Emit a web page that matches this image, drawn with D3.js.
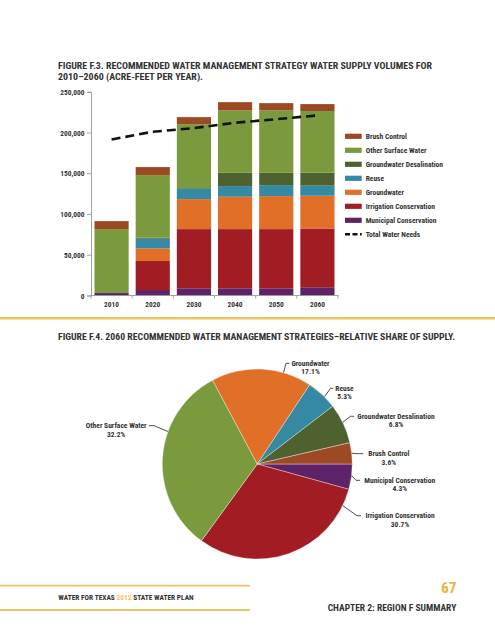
<!DOCTYPE html>
<html><head><meta charset="utf-8">
<script src="https://cdn.jsdelivr.net/npm/d3@7"></script>
<style>
html,body{margin:0;padding:0;background:#fff;}
svg{display:block;}
text{font-family:"Liberation Sans Narrow","Arial Narrow","Roboto Condensed",sans-serif;font-weight:bold;fill:#333;}
</style></head><body>
<svg id="c" width="495" height="640"></svg>
<script>
// ---------- DATA ----------
const years = ["2010","2020","2030","2040","2050","2060"];
const municipal    = [3000, 6700, 8800, 8800, 8800, 10100];
const irrigation   = [0, 35600, 72700, 72700, 72700, 72100];
const groundwater  = [0, 15500, 36800, 39700, 40500, 40200];
const reuse        = [0, 11900, 12700, 13100, 13500, 12400];
const desal        = [0, 1200, 800, 16300, 15100, 16000];
const otherSurface = [78500, 76900, 78500, 76500, 76500, 75600];
const brush        = [9800, 9800, 8600, 10200, 9000, 8500];
const totalNeeds   = [191500, 201000, 205400, 212000, 216400, 221000];
const yTicks = [0, 50000, 100000, 150000, 200000, 250000];
const stackKeys = ["Municipal Conservation","Irrigation Conservation","Groundwater","Reuse","Groundwater Desalination","Other Surface Water","Brush Control"];
const legendNames = ["Brush Control","Other Surface Water","Groundwater Desalination","Reuse","Groundwater","Irrigation Conservation","Municipal Conservation"];
const needsName = "Total Water Needs";
const pieNames  = ["Municipal Conservation","Irrigation Conservation","Other Surface Water","Groundwater","Reuse","Groundwater Desalination","Brush Control"];
const pieShares = [4.3, 30.7, 32.2, 17.1, 5.3, 6.8, 3.6];

// ---------- STYLE ----------
const colors = {
  "Brush Control":"#9c4a24",
  "Other Surface Water":"#7b9a3d",
  "Groundwater Desalination":"#4e6230",
  "Reuse":"#3689a3",
  "Groundwater":"#e26f27",
  "Irrigation Conservation":"#a11d23",
  "Municipal Conservation":"#5e2268"
};
const gold = "#eec462";
const svg = d3.select("#c");

// ---------- TITLES ----------
svg.append("text").attr("x",58).attr("y",68.6).attr("font-size",9.8)
  .attr("textLength",374).attr("lengthAdjust","spacingAndGlyphs")
  .text("FIGURE F.3. RECOMMENDED WATER MANAGEMENT STRATEGY WATER SUPPLY VOLUMES FOR");
svg.append("text").attr("x",58).attr("y",80.4).attr("font-size",9.8)
  .attr("textLength",145).attr("lengthAdjust","spacingAndGlyphs")
  .text("2010\u20132060 (ACRE-FEET PER YEAR).");

// ---------- BAR CHART ----------
const x = d3.scaleBand().domain(years).range([91,338]).paddingInner(0.17).paddingOuter(0.085);
const y = d3.scaleLinear().domain([0,250000]).range([295.5,91.8]);

const table = years.map((yr,i)=>({
  year: yr,
  "Municipal Conservation": municipal[i],
  "Irrigation Conservation": irrigation[i],
  "Groundwater": groundwater[i],
  "Reuse": reuse[i],
  "Groundwater Desalination": desal[i],
  "Other Surface Water": otherSurface[i],
  "Brush Control": brush[i]
}));
const stacked = d3.stack().keys(stackKeys)(table);

const g = svg.append("g");
g.selectAll("g.layer").data(stacked).join("g").attr("class","layer")
  .attr("fill",d=>colors[d.key])
  .selectAll("rect").data(d=>d).join("rect")
  .attr("x",d=>x(d.data.year))
  .attr("width",x.bandwidth())
  .attr("y",d=>y(d[1]))
  .attr("height",d=>Math.max(0,y(d[0])-y(d[1])));

// y axis
const yAxis = d3.axisLeft(y).tickValues(yTicks).tickSize(4).tickFormat(d3.format(","));
const ya = svg.append("g").attr("transform","translate(91,0)").call(yAxis);
ya.attr("font-family",null).attr("font-size",null);
ya.select(".domain").attr("stroke","#999").attr("stroke-width",0.9);
ya.selectAll(".tick line").attr("stroke","#999").attr("stroke-width",0.9);
ya.selectAll(".tick text").attr("font-size",7.4).attr("x",-6.5).attr("dy","0.34em");

// x axis
const xa = svg.append("g").attr("transform","translate(0,295.5)");
xa.append("line").attr("x1",91).attr("x2",338.5).attr("stroke","#999").attr("stroke-width",0.9);
const step = x.step();
const bounds = years.map(yr=>x(yr)-x.paddingInner()*step/2).concat([x(years[years.length-1])+x.bandwidth()+x.paddingInner()*step/2]);
xa.selectAll("line.t").data(bounds).join("line").attr("class","t")
  .attr("x1",d=>d).attr("x2",d=>d).attr("y1",0).attr("y2",3).attr("stroke","#999").attr("stroke-width",0.9);
xa.selectAll("text").data(years).join("text")
  .attr("x",d=>x(d)+x.bandwidth()/2).attr("y",11.3).attr("text-anchor","middle").attr("font-size",7.4)
  .text(d=>d);

// total needs line
const line = d3.line().x((d,i)=>x(years[i])+x.bandwidth()/2).y(d=>y(d));
svg.append("path").datum(totalNeeds).attr("d",line).attr("fill","none")
  .attr("stroke","#111").attr("stroke-width",2.6).attr("stroke-dasharray","9,5");

// legend
const lg = svg.append("g").attr("transform","translate(345,136.3)");
const rows = lg.selectAll("g").data(legendNames.concat([needsName])).join("g")
  .attr("transform",(d,i)=>`translate(0,${i*14})`);
rows.filter(d=>d!==needsName).append("rect").attr("x",0).attr("y",-2.6).attr("width",16.7).attr("height",5.2)
  .attr("fill",d=>colors[d]);
rows.filter(d=>d===needsName).append("line").attr("x1",0).attr("x2",16.7).attr("y1",0).attr("y2",0)
  .attr("stroke","#111").attr("stroke-width",2.4).attr("stroke-dasharray","5,2.5");
rows.append("text").attr("x",20.7).attr("y",2.7).attr("font-size",7.5).text(d=>d);

// separator
svg.append("line").attr("x1",0).attr("x2",495).attr("y1",318.3).attr("y2",318.3)
  .attr("stroke",gold).attr("stroke-width",2.4);

// ---------- PIE ----------
svg.append("text").attr("x",58).attr("y",339.6).attr("font-size",9.8)
  .attr("textLength",397).attr("lengthAdjust","spacingAndGlyphs")
  .text("FIGURE F.4. 2060 RECOMMENDED WATER MANAGEMENT STRATEGIES\u2013RELATIVE SHARE OF SUPPLY.");

const cx = 257.3, cy = 464, R = 95;
const pieData = pieNames.map((n,i)=>({name:n, share:pieShares[i]}));
const pie = d3.pie().sort(null).value(d=>d.share).startAngle(Math.PI/2).endAngle(Math.PI/2+2*Math.PI);
const arc = d3.arc().innerRadius(0).outerRadius(R);
const pg = svg.append("g").attr("transform",`translate(${cx},${cy})`);
pg.selectAll("path").data(pie(pieData)).join("path")
  .attr("d",arc).attr("fill",d=>colors[d.data.name]).attr("stroke","#fff").attr("stroke-width",0.5).attr("stroke-opacity",0.7);

// label layout (positions only)
const labelLayout = {
  "Groundwater":              {tx:310.5, ty:363.3, start:[289.5,363.3], elbow:[286,363.3],   ang:16},
  "Reuse":                    {tx:344.5, ty:388.3, start:[333.3,388.3], elbow:[330.5,388.3], ang:45},
  "Groundwater Desalination": {tx:396,   ty:416.3, start:[354,416.3],   elbow:[350.5,416.3], ang:64},
  "Brush Control":            {tx:388.8, ty:453.7, start:[363.3,453.7], elbow:[357,453.7],   ang:83.5},
  "Municipal Conservation":   {tx:399.7, ty:480.3, start:[360,480.3],   elbow:[356,480.3],   ang:97},
  "Irrigation Conservation":  {tx:400,   ty:515.7, start:[361,515.7],   elbow:[357,515.7],   ang:116},
  "Other Surface Water":      {tx:116.2, ty:425.7, start:[149,425.7],   elbow:[154,425.7],   ang:290}
};
const lab = svg.append("g");
pieData.forEach(d=>{
  const L = labelLayout[d.name];
  const a = L.ang*Math.PI/180;
  const ex = cx + R*Math.sin(a), ey = cy - R*Math.cos(a);
  lab.append("polyline").attr("points",`${L.start[0]},${L.start[1]} ${L.elbow[0]},${L.elbow[1]} ${ex},${ey}`)
    .attr("fill","none").attr("stroke","#222").attr("stroke-width",0.8);
  const t = lab.append("text").attr("text-anchor","middle").attr("font-size",7.5);
  t.append("tspan").attr("x",L.tx).attr("y",L.ty+2.7).text(d.name);
  t.append("tspan").attr("x",L.tx).attr("y",L.ty+11.1).text(d3.format(".1f")(d.share)+"%");
});

// ---------- FOOTER ----------
svg.append("line").attr("x1",0).attr("x2",250).attr("y1",585.7).attr("y2",585.7).attr("stroke",gold).attr("stroke-width",1.8);
svg.append("line").attr("x1",0).attr("x2",250).attr("y1",610).attr("y2",610).attr("stroke",gold).attr("stroke-width",1.8);
const ft = svg.append("text").attr("x",58.3).attr("y",600.4).attr("font-size",7.4);
ft.append("tspan").text("WATER FOR TEXAS ");
ft.append("tspan").attr("fill",gold).style("fill",gold).text("2012");
ft.append("tspan").text(" STATE WATER PLAN");
svg.append("text").attr("x",456.7).attr("y",593.3).attr("text-anchor","end").attr("font-size",15.5)
  .style("fill","#e9b73f").text("67");
svg.append("text").attr("x",456.3).attr("y",611).attr("text-anchor","end").attr("font-size",9.5)
  .text("CHAPTER 2: REGION F SUMMARY");
</script>
</body></html>
